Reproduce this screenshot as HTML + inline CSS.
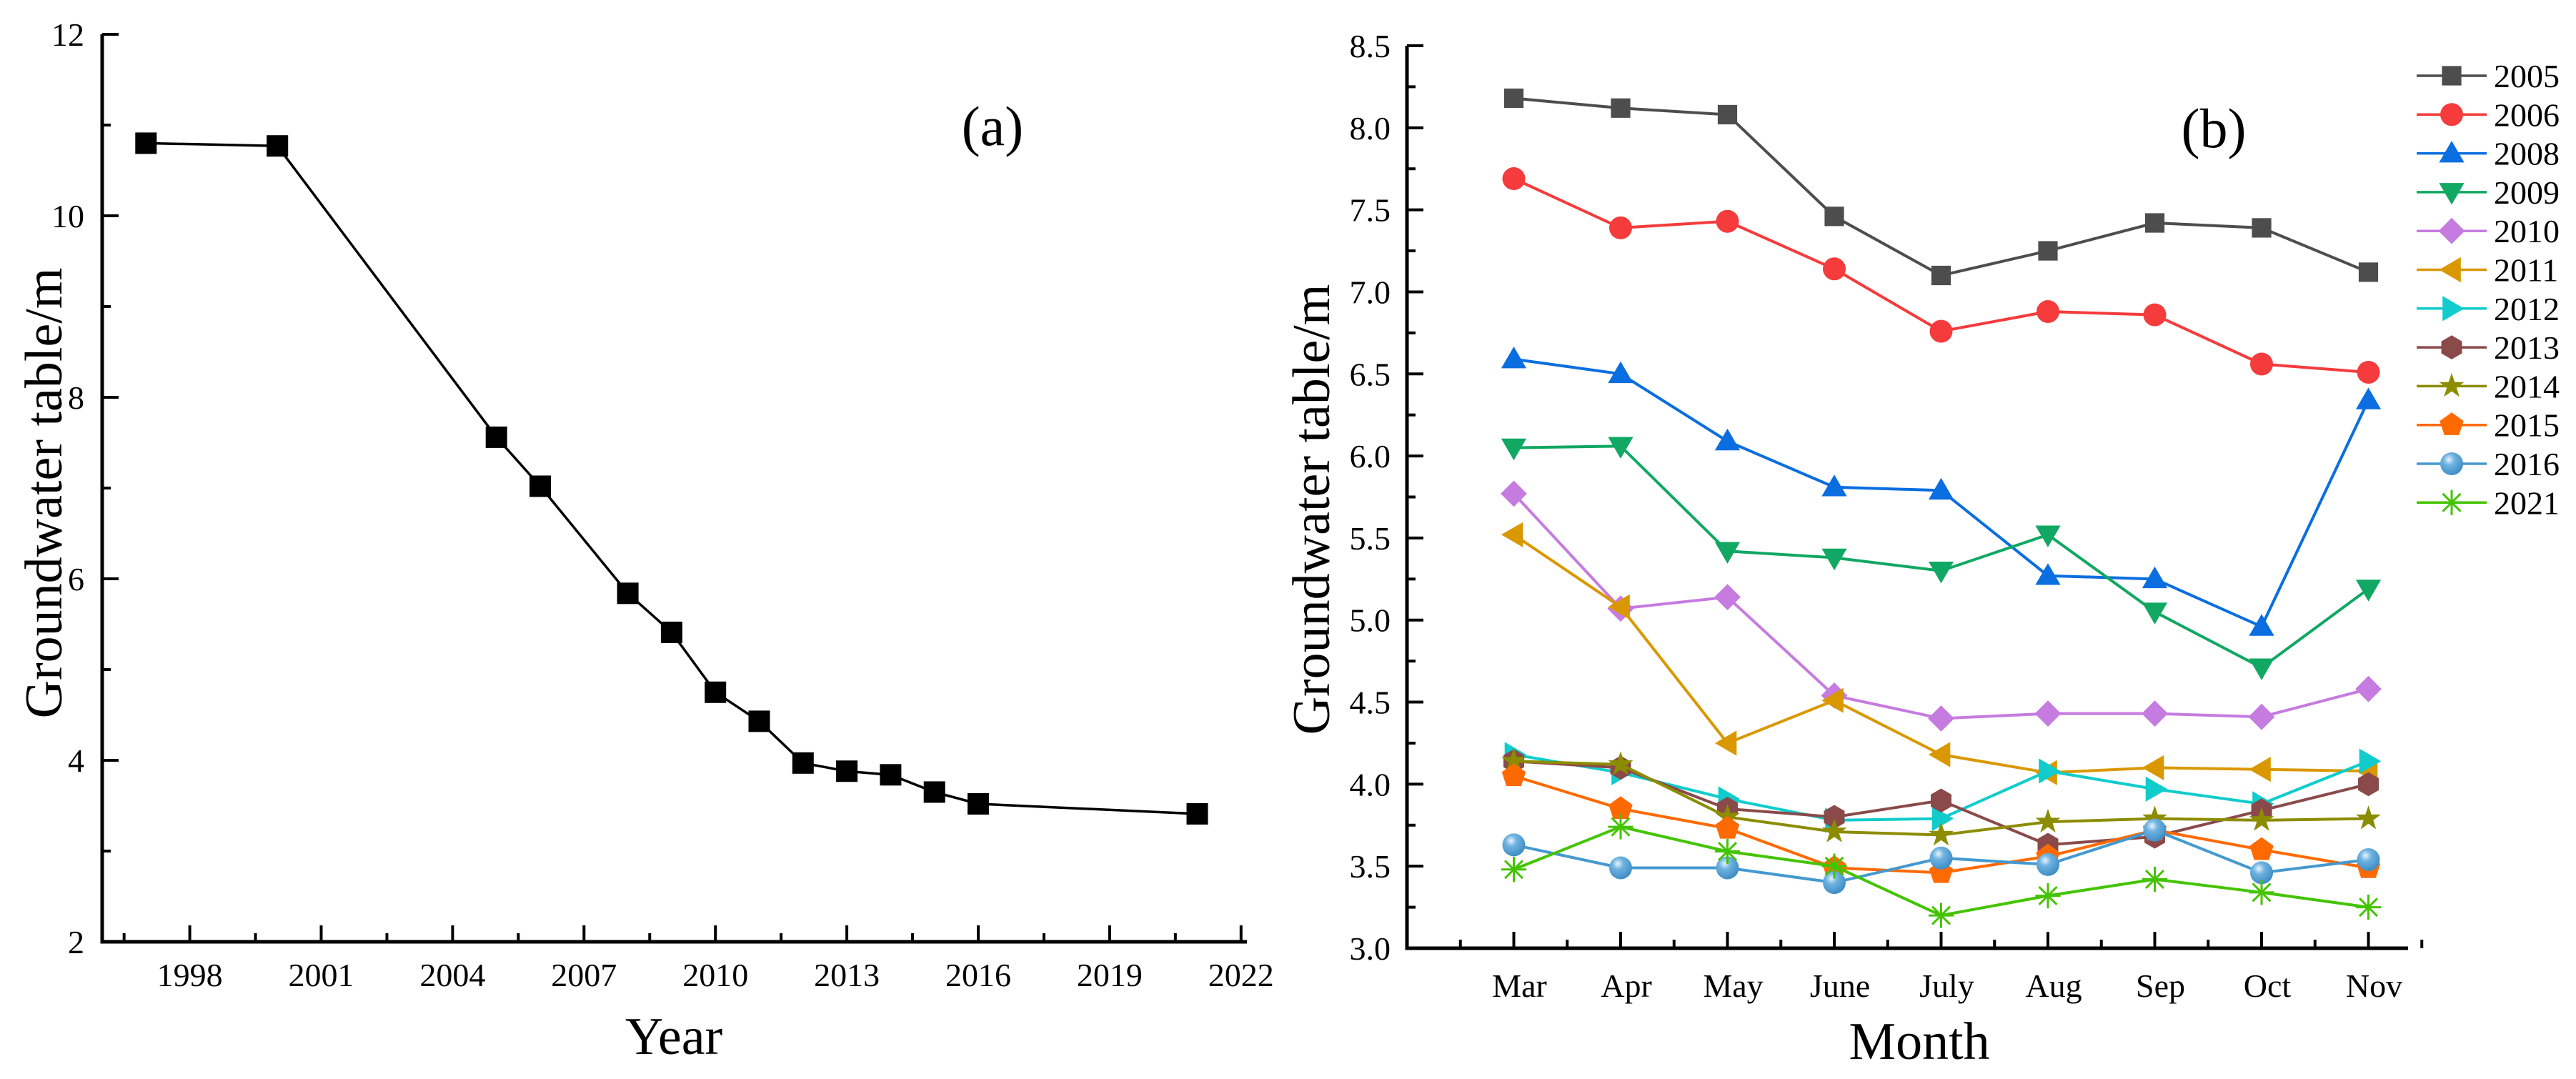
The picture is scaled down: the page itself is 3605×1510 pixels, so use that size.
<!DOCTYPE html>
<html><head><meta charset="utf-8"><style>
html,body{margin:0;padding:0;background:#fff;}
svg{display:block;font-family:"Liberation Serif",serif;}
</style></head><body>
<svg id="chart" width="3605" height="1510" viewBox="0 0 3605 1510" xmlns="http://www.w3.org/2000/svg">
<defs>
<radialGradient id="sph" cx="0.38" cy="0.32" r="0.7"><stop offset="0" stop-color="#e8f4ff"/><stop offset="0.35" stop-color="#6fb3e0"/><stop offset="1" stop-color="#3d8cc4"/></radialGradient>
</defs>
<g id="pa"></g>
<g id="pb"></g>
</svg>
<script>
// Panel (a) data
const yearsA = [1997, 2000, 2005, 2006, 2008, 2009, 2010, 2011, 2012, 2013, 2014, 2015, 2016, 2021];
const levelsA = [10.80, 10.77, 7.56, 7.02, 5.84, 5.41, 4.75, 4.43, 3.97, 3.88, 3.84, 3.65, 3.52, 3.41];
const xTicksA = [1998, 2001, 2004, 2007, 2010, 2013, 2016, 2019, 2022];
const yTicksA = [2, 4, 6, 8, 10, 12];

// Panel (b) data
const months = ["Mar","Apr","May","June","July","Aug","Sep","Oct","Nov"];
const seriesNames = ["2005","2006","2008","2009","2010","2011","2012","2013","2014","2015","2016","2021"];
const s2005 = [8.18, 8.12, 8.08, 7.46, 7.10, 7.25, 7.42, 7.39, 7.12];
const s2006 = [7.69, 7.39, 7.43, 7.14, 6.76, 6.88, 6.86, 6.56, 6.51];
const s2008 = [6.59, 6.50, 6.09, 5.81, 5.79, 5.27, 5.25, 4.96, 6.34];
const s2009 = [6.05, 6.06, 5.42, 5.38, 5.30, 5.52, 5.05, 4.71, 5.19];
const s2010 = [5.77, 5.07, 5.14, 4.54, 4.40, 4.43, 4.43, 4.41, 4.58];
const s2011 = [5.52, 5.08, 4.25, 4.51, 4.18, 4.07, 4.10, 4.09, 4.08];
const s2012 = [4.18, 4.07, 3.91, 3.78, 3.79, 4.08, 3.97, 3.88, 4.14];
const s2013 = [4.14, 4.10, 3.85, 3.80, 3.90, 3.63, 3.68, 3.84, 4.00];
const s2014 = [4.14, 4.12, 3.80, 3.71, 3.69, 3.77, 3.79, 3.78, 3.79];
const s2015 = [4.05, 3.85, 3.73, 3.49, 3.46, 3.56, 3.72, 3.60, 3.49];
const s2016 = [3.63, 3.49, 3.49, 3.40, 3.55, 3.51, 3.72, 3.46, 3.54];
const s2021 = [3.48, 3.74, 3.59, 3.50, 3.20, 3.32, 3.42, 3.34, 3.25];
const yTicksB = [3.0, 3.5, 4.0, 4.5, 5.0, 5.5, 6.0, 6.5, 7.0, 7.5, 8.0, 8.5];

const seriesValues = [s2005,s2006,s2008,s2009,s2010,s2011,s2012,s2013,s2014,s2015,s2016,s2021];
const colors = ["#4d4d4d","#f53b3b","#0a6ee0","#10a862","#c67be0","#da9800","#10cccc","#8a4a4a","#8c8c00","#ff6a00","#4599cf","#44c400"];
const shapes = ["square","circle","up","down","diamond","left","right","hex","star","pent","sphere","aster"];

const NS = "http://www.w3.org/2000/svg";
const TF = 46, TITLE = 74;
function mk(parent, tag, attrs, text){
  const e = document.createElementNS(NS, tag);
  for (const k in attrs) e.setAttribute(k, attrs[k]);
  if (text !== undefined) e.textContent = text;
  parent.appendChild(e); return e;
}

// ---------- Panel A ----------
const pa = document.getElementById("pa");
const A = {x0:143, x1:1745, y0:1318, y1:48, xmin:1996, ymin:2, ymax:12, pxPerYear:61.3};
const xA = v => A.x0 + (v - A.xmin) * A.pxPerYear;
const yA = v => A.y0 - (v - A.ymin) / (A.ymax - A.ymin) * (A.y0 - A.y1);

let ax = mk(pa,"path",{d:`M${A.x0},${A.y1} V${A.y0} H${A.x1}`,fill:"none",stroke:"#000","stroke-width":5});


for (let v=1996.5; v<=2022; v+=1.5){
  const major = xTicksA.includes(v);
  mk(pa,"line",{x1:xA(v),x2:xA(v),y1:A.y0,y2:A.y0-(major?23:12),stroke:"#000","stroke-width":4});
}
xTicksA.forEach(v=>{
  const t = mk(pa,"text",{x:xA(v),y:1380,"font-size":TF,"text-anchor":"middle"}, String(v));
  
  
});
for (let v=3; v<=11; v+=2) mk(pa,"line",{x1:A.x0,x2:A.x0+12,y1:yA(v),y2:yA(v),stroke:"#000","stroke-width":4});
yTicksA.forEach(v=>{
  mk(pa,"line",{x1:A.x0,x2:A.x0+23,y1:yA(v),y2:yA(v),stroke:"#000","stroke-width":4});
  const t = mk(pa,"text",{x:118,y:yA(v)+16,"font-size":TF,"text-anchor":"end"}, String(v));
  
  
});
let ttl = mk(pa,"text",{x:943,y:1475,"font-size":TITLE,"text-anchor":"middle"},"Year");


ttl = mk(pa,"text",{x:0,y:0,"font-size":TITLE,"text-anchor":"middle",transform:"translate(86,690) rotate(-90)"},"Groundwater table/m");


ttl = mk(pa,"text",{x:1389,y:203,"font-size":78,"text-anchor":"middle"},"(a)");


let ln = mk(pa,"polyline",{points:yearsA.map((y,i)=>xA(y)+","+yA(levelsA[i])).join(" "),fill:"none",stroke:"#000","stroke-width":3.5});


yearsA.forEach((y,i)=>{
  const r = mk(pa,"rect",{x:xA(y)-15,y:yA(levelsA[i])-15,width:30,height:30,fill:"#000"});
  
  
});

// ---------- Panel B ----------
const pb = document.getElementById("pb");
const B = {x0:1969, x1:3370, y0:1327, y1:64, ymin:3.0, ymax:8.5, x0idx:-1, step:149.5};
const xB = i => B.x0 + (i - B.x0idx) * B.step;
const yB = v => B.y0 - (v - B.ymin) / (B.ymax - B.ymin) * (B.y0 - B.y1);

ax = mk(pb,"path",{d:`M${B.x0},${B.y1} V${B.y0} H${B.x1}`,fill:"none",stroke:"#000","stroke-width":5});


for (let i=-0.5; i<=8.5; i+=0.5){
  const major = Number.isInteger(i) && i>=0;
  mk(pb,"line",{x1:xB(i),x2:xB(i),y1:B.y0,y2:B.y0-(major?23:12),stroke:"#000","stroke-width":4});
}
months.forEach((m,i)=>{
  const t = mk(pb,"text",{x:xB(i)+8,y:1395,"font-size":TF,"text-anchor":"middle"}, m);
  
  
});
for (let v=3.25; v<8.5; v+=0.5) mk(pb,"line",{x1:B.x0,x2:B.x0+12,y1:yB(v),y2:yB(v),stroke:"#000","stroke-width":4});
yTicksB.forEach(v=>{
  mk(pb,"line",{x1:B.x0,x2:B.x0+23,y1:yB(v),y2:yB(v),stroke:"#000","stroke-width":4});
  const t = mk(pb,"text",{x:1946,y:yB(v)+16,"font-size":TF,"text-anchor":"end"}, v.toFixed(1));
  
  
});
ttl = mk(pb,"text",{x:2686,y:1482,"font-size":TITLE,"text-anchor":"middle"},"Month");


ttl = mk(pb,"text",{x:0,y:0,"font-size":TITLE,"text-anchor":"middle",transform:"translate(1860,713) rotate(-90)"},"Groundwater table/m");


ttl = mk(pb,"text",{x:3098,y:206,"font-size":78,"text-anchor":"middle"},"(b)");



function marker(g, shape, cx, cy, col, s){
  const pts = arr => arr.map(p=>(cx+p[0]*s).toFixed(1)+","+(cy+p[1]*s).toFixed(1)).join(" ");
  let e;
  switch(shape){
    case "square": e = mk(g,"rect",{x:cx-s*0.85,y:cy-s*0.85,width:s*1.7,height:s*1.7,fill:col}); break;
    case "circle": e = mk(g,"circle",{cx,cy,r:s,fill:col}); break;
    case "up": e = mk(g,"polygon",{points:pts([[0,-1.1],[1.1,0.8],[-1.1,0.8]]),fill:col}); break;
    case "down": e = mk(g,"polygon",{points:pts([[0,1.1],[1.1,-0.8],[-1.1,-0.8]]),fill:col}); break;
    case "diamond": e = mk(g,"polygon",{points:pts([[0,-1.15],[1.15,0],[0,1.15],[-1.15,0]]),fill:col}); break;
    case "left": e = mk(g,"polygon",{points:pts([[-1.1,0],[0.8,-1.1],[0.8,1.1]]),fill:col}); break;
    case "right": e = mk(g,"polygon",{points:pts([[1.1,0],[-0.8,-1.1],[-0.8,1.1]]),fill:col}); break;
    case "hex": { const a=[]; for(let k=0;k<6;k++){const t=Math.PI/6+k*Math.PI/3; a.push([Math.cos(t)*1.05,Math.sin(t)*1.05]);} e = mk(g,"polygon",{points:pts(a),fill:col}); break; }
    case "star": { const a=[]; for(let k=0;k<10;k++){const t=-Math.PI/2+k*Math.PI/5; const r=k%2?0.45:1.15; a.push([Math.cos(t)*r,Math.sin(t)*r]);} e = mk(g,"polygon",{points:pts(a),fill:col}); break; }
    case "pent": { const a=[]; for(let k=0;k<5;k++){const t=-Math.PI/2+k*2*Math.PI/5; a.push([Math.cos(t)*1.1,Math.sin(t)*1.1]);} e = mk(g,"polygon",{points:pts(a),fill:col}); break; }
    case "sphere": e = mk(g,"circle",{cx,cy,r:s,fill:"url(#sph)"}); break;
    case "aster": { let d=""; for(let k=0;k<4;k++){const t=k*Math.PI/4; d+=`M${cx-Math.cos(t)*s*1.1},${cy-Math.sin(t)*s*1.1}L${cx+Math.cos(t)*s*1.1},${cy+Math.sin(t)*s*1.1}`;} e = mk(g,"path",{d,stroke:col,"stroke-width":3,fill:"none"}); break; }
  }
  return e;
}

seriesValues.forEach((vals, si)=>{
  const g = mk(pb,"g",{});
  
  
  const l = mk(g,"polyline",{points:vals.map((v,i)=>xB(i)+","+yB(v)).join(" "),fill:"none",stroke:colors[si],"stroke-width":4});
  
  
  vals.forEach((v,i)=>{
    const m = marker(g, shapes[si], xB(i), yB(v), colors[si], 16);
    
    
  });
});

// legend
const lg = mk(pb,"g",{});


seriesNames.forEach((n,si)=>{
  const y = 106 + si*54.3;
  const g = mk(lg,"g",{});
  
  
  mk(g,"line",{x1:3382,x2:3480,y1:y,y2:y,stroke:colors[si],"stroke-width":3.5});
  marker(g, shapes[si], 3431, y, colors[si], 16);
  mk(g,"text",{x:3490,y:y+16,"font-size":46},n);
});
</script>
</body></html>
